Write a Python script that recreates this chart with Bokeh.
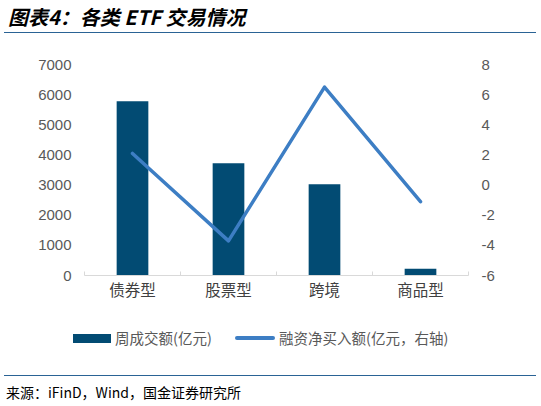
from bokeh.plotting import figure
from bokeh.layouts import column
from bokeh.embed import file_html
from bokeh.resources import INLINE
from bokeh.models import ColumnDataSource, Range1d, LinearAxis, FixedTicker, Div

# data
categories = ["债券型", "股票型", "跨境", "商品型"]
turnover = [5780, 3720, 3030, 220]          # 周成交额(亿元), left axis
net_buy = [2.1, -3.7, 6.5, -1.1]            # 融资净买入额(亿元), right axis
left_ticks = [0, 1000, 2000, 3000, 4000, 5000, 6000, 7000]
right_ticks = [-6, -4, -2, 0, 2, 4, 6, 8]
series_names = ["周成交额(亿元)", "融资净买入额(亿元，右轴)"]

title_text = "图表4：各类 ETF 交易情况"
source_text = "来源：iFinD，Wind，国金证券研究所"

W = 541
BAR = "#024b73"
LINE = "#3d7ec4"
RULE = "#2a6395"
GRAY = "#595959"
CJK = "Noto Sans CJK SC"
NUM = "Liberation Sans"


def box(left, top, inner, style=""):
    return f'<div style="position:absolute;left:{left}px;top:{top}px;{style}">{inner}</div>'


# header: title + rule
head = Div(width=W, height=34, margin=0, text=(
    f'<div style="position:relative;width:{W}px;height:34px">'
    + box(8, 3.5, title_text, f"white-space:nowrap;font:italic bold 20px '{CJK}';line-height:26px;color:#000")
    + box(4, 31.5, "", f"width:532px;height:1.6px;background:{RULE}")
    + '</div>'))

# main chart
xs = [i + 0.5 for i in range(len(categories))]
source = ColumnDataSource(data=dict(x=xs, turnover=turnover, net_buy=net_buy))

p = figure(
    width=W, height=284,
    x_range=Range1d(0, len(categories)),
    y_range=Range1d(left_ticks[0], left_ticks[-1]),
    x_axis_type=None, y_axis_type=None,
    toolbar_location=None, tools="", output_backend="svg",
    min_border_left=84, min_border_right=73, min_border_top=30, min_border_bottom=43,
)
p.extra_y_ranges = {"right": Range1d(right_ticks[0], right_ticks[-1])}
p.outline_line_color = None
p.grid.visible = False

p.vbar(x="x", top="turnover", width=0.33, fill_color=BAR, line_color=None, source=source)
p.line(x="x", y="net_buy", line_color=LINE, line_width=3.5, line_cap="round",
       line_join="round", y_range_name="right", source=source)

xaxis = LinearAxis(ticker=FixedTicker(ticks=xs, minor_ticks=list(range(len(categories) + 1))))
xaxis.major_label_overrides = {x: c for x, c in zip(xs, categories)}
xaxis.axis_line_color = "#d9d9d9"
xaxis.major_tick_line_color = None
xaxis.major_tick_out = 0
xaxis.major_tick_in = 0
xaxis.minor_tick_line_color = "#d9d9d9"
xaxis.minor_tick_in = 4
xaxis.minor_tick_out = 0
xaxis.major_label_standoff = 2
xaxis.major_label_text_font = CJK
xaxis.major_label_text_font_size = "15.5px"
xaxis.major_label_text_color = "#404040"
p.add_layout(xaxis, "below")

for ax_side, ticks, rng in (("left", left_ticks, "default"), ("right", right_ticks, "right")):
    ax = LinearAxis(ticker=FixedTicker(ticks=ticks), y_range_name=rng)
    ax.major_label_overrides = {t: str(t) for t in ticks}   # plain hyphen for negatives
    ax.axis_line_color = None
    ax.major_tick_line_color = None
    ax.minor_tick_line_color = None
    ax.major_tick_out = 0
    ax.major_tick_in = 0
    ax.major_label_standoff = 13
    ax.major_label_text_font = NUM
    ax.major_label_text_font_size = "15px"
    ax.major_label_text_color = GRAY
    p.add_layout(ax, ax_side)

# footer: legend, rule, source note
label_style = f"white-space:nowrap;font:14.5px '{CJK}';line-height:20px;color:{GRAY}"
foot = Div(width=W, height=88, margin=0, text=(
    f'<div style="position:relative;width:{W}px;height:88px">'
    + box(73, 15.5, "", f"width:38px;height:9px;background:{BAR}")
    + box(115, 10, series_names[0], label_style)
    + box(235, 18.3, "", f"width:40px;height:3.5px;border-radius:2px;background:{LINE}")
    + box(279, 10, series_names[1], label_style)
    + box(4, 56.9, "", f"width:532px;height:1.6px;background:{RULE}")
    + box(6, 65, source_text, f"white-space:nowrap;font:14px '{CJK}';line-height:18px;color:#000")
    + '</div>'))

layout = column(head, p, foot, spacing=0)
open("out.html", "w").write(file_html(layout, INLINE))
